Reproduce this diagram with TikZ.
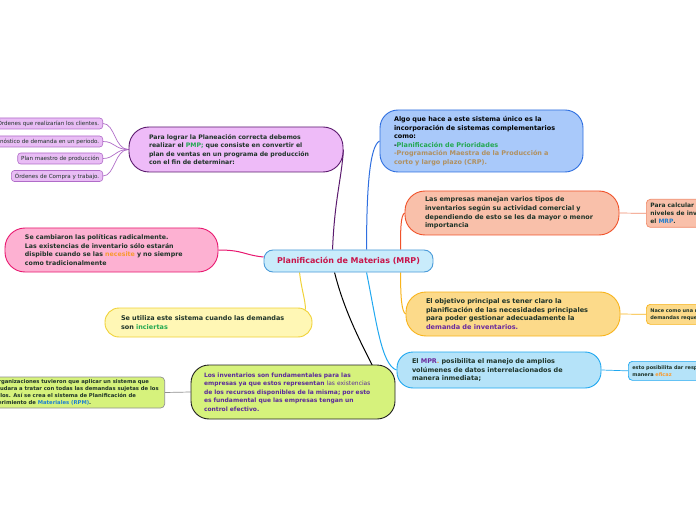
\documentclass[tikz,border=0pt]{standalone}
\usepackage{fontspec}
\setmainfont{DejaVu Sans}
\usetikzlibrary{calc,backgrounds}
\definecolor{txt}{HTML}{1E3328}
\definecolor{cfill}{HTML}{C9ECFB}\definecolor{cdraw}{HTML}{4A9BD9}\definecolor{ctxt}{HTML}{C8154A}
\definecolor{pfill}{HTML}{EEBBF8}\definecolor{pdraw}{HTML}{5B1A6E}
\definecolor{spfill}{HTML}{E9BDF5}\definecolor{spdraw}{HTML}{B06CC8}
\definecolor{bfill}{HTML}{A9C9FA}\definecolor{bdraw}{HTML}{2F6FE0}
\definecolor{sfill}{HTML}{F9C0AA}\definecolor{sdraw}{HTML}{F0522A}\definecolor{srdraw}{HTML}{F08A6A}
\definecolor{ofill}{HTML}{FCDA8A}\definecolor{odraw}{HTML}{F8B41C}
\definecolor{lbfill}{HTML}{B5E3F9}\definecolor{lbdraw}{HTML}{20A8F0}
\definecolor{gfill}{HTML}{D6F27C}\definecolor{gdraw}{HTML}{202020}\definecolor{lgdraw}{HTML}{909090}
\definecolor{pkfill}{HTML}{FDB1D2}\definecolor{pkdraw}{HTML}{E81870}
\definecolor{lyfill}{HTML}{FFF7B5}\definecolor{lydraw}{HTML}{F0D238}
\definecolor{tgreen}{HTML}{22A850}\definecolor{ttan}{HTML}{B09060}\definecolor{tpurp}{HTML}{6A2A9E}
\definecolor{torange}{HTML}{F89A30}\definecolor{tblue}{HTML}{2080D0}\definecolor{gtxt}{HTML}{5B2B9A}
\newcommand{\mmfont}[1]{\fontsize{#1}{8.6}\selectfont\bfseries}
\newcommand{\smfont}{\fontsize{5.6}{6}\selectfont}
\newcommand{\tinyfont}{\fontsize{5}{7}\selectfont\bfseries}
\begin{document}
\begin{tikzpicture}[x=1bp,y=-1bp,
  bignode/.style={draw, line width=0.9bp, text=txt, align=left, inner ysep=0pt},
  smallp/.style={draw=spdraw, fill=spfill, line width=0.6bp, rounded corners=3bp, font=\smfont, text=txt, align=right, inner xsep=3.5bp, inner ysep=0pt, minimum height=11bp, anchor=east},
  sidenode/.style={draw, line width=0.7bp, rounded corners=4bp, align=left, text=txt, inner xsep=4bp, inner ysep=0pt, anchor=north west, minimum width=90bp},
  conn/.style={line width=1bp},
  thin/.style={line width=0.7bp}]
\useasboundingbox (0,0) rectangle (696,520);

% center
\node[draw=cdraw, fill=cfill, line width=0.9bp, rounded corners=9bp, minimum width=169bp, minimum height=22bp, inner sep=0pt, text=ctxt, font=\fontsize{8}{9}\selectfont\bfseries] (c) at (348.5,261) {Planificación de Materias (MRP)};

% purple
\node[bignode, font=\mmfont{6.2}, fill=pfill, draw=pdraw, rounded corners=20bp, minimum width=214bp, minimum height=45bp, inner xsep=20bp, text width=174bp] (pmp) at (236,149.5)
{Para lograr la Planeación correcta debemos\\ realizar el \textcolor{tgreen}{PMP;} que consiste en convertir el\\ plan de ventas en un programa de producción\\ con el fin de determinar:};

\node[smallp] (s1) at (103,123.5) {Órdenes que realizarían los clientes.};
\node[smallp] (s2) at (103,141.5) {Pronóstico de demanda en un periodo.};
\node[smallp] (s3) at (103,158.5) {Plan maestro de producción};
\node[smallp] (s4) at (103,176) {Órdenes de Compra y trabajo.};

% blue top
\node[bignode, font=\mmfont{6.5}, fill=bfill, draw=bdraw, rounded corners=18bp, minimum width=203bp, minimum height=62bp, inner xsep=14bp, text width=175bp, text=black] (top) at (481.5,141)
{Algo que hace a este sistema único es la\\ incorporación de sistemas complementarios\\ como:\\ -\textcolor{tgreen}{Planificación de Prioridades}\\ \textcolor{ttan}{-Programación Maestra de la Producción a}\\ \textcolor{ttan}{corto y largo plazo (CRP).}};

% salmon
\node[bignode, font=\mmfont{6.5}, fill=sfill, draw=sdraw, rounded corners=20bp, minimum width=214bp, minimum height=44bp, inner xsep=20bp, text width=174bp] (sal) at (512,213)
{Las empresas manejan varios tipos de\\ inventarios según su actividad comercial y\\ dependiendo de esto se les da mayor o menor\\ importancia};
\node[sidenode, fill=sfill, draw=srdraw, minimum height=28bp, font=\fontsize{6}{8}\selectfont\bfseries] (r1) at (646,199)
{Para calcular los\\ niveles de inventario se usa\\ el \textcolor{tblue}{MRP}.};

% orange
\node[bignode, font=\mmfont{6.6}, fill=ofill, draw=odraw, rounded corners=20bp, minimum width=214bp, minimum height=44bp, inner xsep=20bp, text width=174bp] (ora) at (513,314)
{El objetivo principal es tener claro la\\ planificación de las necesidades principales\\ para poder gestionar adecuadamente la\\ \textcolor{tpurp}{demanda de inventarios.}};
\node[sidenode, fill=ofill, draw=odraw, minimum height=20bp, font=\tinyfont] (r2) at (646,304)
{Nace como una respuesta a las\\ demandas requeridas.};

% light blue
\node[bignode, font=\mmfont{6.5}, fill=lbfill, draw=lbdraw, rounded corners=16bp, minimum width=204bp, minimum height=36bp, inner xsep=15bp, text width=174bp] (lb) at (499,370)
{El \textcolor{tpurp}{MPR}\textcolor{torange}{.} posibilita el manejo de amplios\\ volúmenes de datos interrelacionados de\\ manera inmediata;};
\node[sidenode, fill=lbfill, draw=lbdraw, minimum height=19bp, font=\tinyfont] (r3) at (628,361)
{esto posibilita dar respuesta de\\ manera \textcolor{torange}{eficaz}};

% green
\node[bignode, font=\mmfont{6}, fill=gfill, draw=gdraw, rounded corners=18bp, minimum width=204bp, minimum height=54bp, inner xsep=13bp, text width=178bp, text=gtxt] (gr) at (293,392)
{Los inventarios son fundamentales para las\\ empresas ya que estos representan {\mdseries las existencias}\\ de los recursos disponibles de la misma; por esto\\ es fundamental que las empresas tengan un\\ control efectivo.};
\node[draw=lgdraw, fill=gfill, line width=0.7bp, rounded corners=4bp, align=left, text=txt, inner xsep=6bp, inner ysep=0pt, minimum height=31bp, anchor=east, font=\fontsize{5.3}{7}\selectfont\bfseries] (lg) at (165,392.5)
{Las organizaciones tuvieron que aplicar un sistema que\\ les ayudara a tratar con todas las demandas sujetas de los\\ artículos. Así se crea el sistema de Planificación de\\ Requerimiento de \textcolor{tblue}{Materiales (RPM)}.};

% pink
\node[bignode, font=\mmfont{6.3}, fill=pkfill, draw=pkdraw, rounded corners=20bp, minimum width=213bp, minimum height=44bp, inner xsep=20bp, text width=173bp] (pk) at (111.5,250)
{Se cambiaron las políticas radicalmente.\\ Las existencias de inventario sólo estarán\\ dispible cuando se las \textcolor{torange}{necesite} y no siempre\\ como tradicionalmente};

% light yellow
\node[bignode, font=\mmfont{6.5}, fill=lyfill, draw=lydraw, rounded corners=14bp, minimum width=207bp, minimum height=29bp, inner xsep=16bp, text width=175bp] (ly) at (208.5,322.5)
{Se utiliza este sistema cuando las demandas\\ son \textcolor{tgreen}{inciertas}};

\begin{scope}[on background layer]
\fill[white] (0,0) rectangle (696,520);
\draw[conn, draw=pdraw] ($(c.north west)+(69,0)$) .. controls +(2,-50) and +(-2,30) .. (pmp.east);
\draw[conn, draw=bdraw] ($(c.north west)+(103,0)$) .. controls +(0,-60) and +(-10,5) .. (top.west);
\draw[conn, draw=sdraw] ($(c.north west)+(137,0)$) .. controls +(0,-20) and +(-4,3) .. (sal.west);
\draw[conn, draw=odraw] ($(c.south west)+(137,0)$) .. controls +(0,25) and +(-4,-3) .. (ora.west);
\draw[conn, draw=lbdraw] ($(c.south west)+(103,0)$) .. controls +(10,50) and +(-15,-5) .. (lb.west);
\draw[conn, draw=black] ($(c.south west)+(71,0)$) .. controls +(10,40) and +(-10,-20) .. ($(gr.north east)+(-23,1)$);
\draw[conn, draw=lydraw] ($(c.south west)+(36,0)$) .. controls +(2,18) and +(0,-10) .. ($(ly.north east)+(-7,2)$);
\draw[conn, draw=pkdraw] (pk.east) .. controls +(25,0) and +(-20,-2) .. ($(c.west)+(0,-4)$);
\foreach \s in {s1,s2,s3,s4}
  \draw[thin, draw=spdraw] (pmp.west) .. controls +(-14,0) and +(12,0) .. (\s.east);
\draw[thin, draw=srdraw] (sal.east) -- (r1.west);
\draw[thin, draw=odraw] (ora.east) -- (r2.west);
\draw[thin, draw=lbdraw] (lb.east) -- (r3.west);
\draw[thin, draw=lgdraw] (gr.west) -- (lg.east);
\end{scope}
\end{tikzpicture}
\end{document}
